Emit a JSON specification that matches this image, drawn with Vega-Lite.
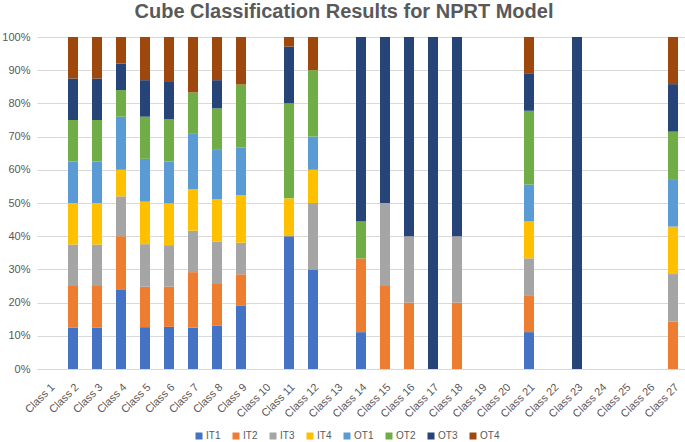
{
  "$schema": "https://vega.github.io/schema/vega-lite/v6.json",
  "width": 648,
  "height": 332,
  "autosize": {"type": "none"},
  "padding": {"left": 37, "top": 37, "right": 0, "bottom": 73},
  "background": "white",
  "title": {
    "text": "Cube Classification Results for NPRT Model",
    "font": "Liberation Sans",
    "fontSize": 20,
    "fontWeight": "bold",
    "color": "#595959",
    "anchor": "middle",
    "dx": -17,
    "offset": 9
  },
  "data": {
    "values": [
      {"cls": "Class 2", "s": "IT1", "v": 12.5}, {"cls": "Class 2", "s": "IT2", "v": 12.5}, {"cls": "Class 2", "s": "IT3", "v": 12.5}, {"cls": "Class 2", "s": "IT4", "v": 12.5}, {"cls": "Class 2", "s": "OT1", "v": 12.5}, {"cls": "Class 2", "s": "OT2", "v": 12.5}, {"cls": "Class 2", "s": "OT3", "v": 12.5}, {"cls": "Class 2", "s": "OT4", "v": 12.5},
      {"cls": "Class 3", "s": "IT1", "v": 12.5}, {"cls": "Class 3", "s": "IT2", "v": 12.5}, {"cls": "Class 3", "s": "IT3", "v": 12.5}, {"cls": "Class 3", "s": "IT4", "v": 12.5}, {"cls": "Class 3", "s": "OT1", "v": 12.5}, {"cls": "Class 3", "s": "OT2", "v": 12.5}, {"cls": "Class 3", "s": "OT3", "v": 12.5}, {"cls": "Class 3", "s": "OT4", "v": 12.5},
      {"cls": "Class 4", "s": "IT1", "v": 24}, {"cls": "Class 4", "s": "IT2", "v": 16}, {"cls": "Class 4", "s": "IT3", "v": 12}, {"cls": "Class 4", "s": "IT4", "v": 8}, {"cls": "Class 4", "s": "OT1", "v": 16}, {"cls": "Class 4", "s": "OT2", "v": 8}, {"cls": "Class 4", "s": "OT3", "v": 8}, {"cls": "Class 4", "s": "OT4", "v": 8},
      {"cls": "Class 5", "s": "IT1", "v": 12.6}, {"cls": "Class 5", "s": "IT2", "v": 12.2}, {"cls": "Class 5", "s": "IT3", "v": 12.8}, {"cls": "Class 5", "s": "IT4", "v": 12.8}, {"cls": "Class 5", "s": "OT1", "v": 12.9}, {"cls": "Class 5", "s": "OT2", "v": 12.7}, {"cls": "Class 5", "s": "OT3", "v": 11}, {"cls": "Class 5", "s": "OT4", "v": 13},
      {"cls": "Class 6", "s": "IT1", "v": 12.7}, {"cls": "Class 6", "s": "IT2", "v": 12.1}, {"cls": "Class 6", "s": "IT3", "v": 12.5}, {"cls": "Class 6", "s": "IT4", "v": 12.6}, {"cls": "Class 6", "s": "OT1", "v": 12.6}, {"cls": "Class 6", "s": "OT2", "v": 12.7}, {"cls": "Class 6", "s": "OT3", "v": 11.5}, {"cls": "Class 6", "s": "OT4", "v": 13.3},
      {"cls": "Class 7", "s": "IT1", "v": 12.5}, {"cls": "Class 7", "s": "IT2", "v": 16.7}, {"cls": "Class 7", "s": "IT3", "v": 12.5}, {"cls": "Class 7", "s": "IT4", "v": 12.5}, {"cls": "Class 7", "s": "OT1", "v": 16.7}, {"cls": "Class 7", "s": "OT2", "v": 12.5}, {"cls": "Class 7", "s": "OT4", "v": 16.7},
      {"cls": "Class 8", "s": "IT1", "v": 13}, {"cls": "Class 8", "s": "IT2", "v": 12.6}, {"cls": "Class 8", "s": "IT3", "v": 12.7}, {"cls": "Class 8", "s": "IT4", "v": 12.8}, {"cls": "Class 8", "s": "OT1", "v": 14.9}, {"cls": "Class 8", "s": "OT2", "v": 12.5}, {"cls": "Class 8", "s": "OT3", "v": 8.5}, {"cls": "Class 8", "s": "OT4", "v": 13},
      {"cls": "Class 9", "s": "IT1", "v": 19}, {"cls": "Class 9", "s": "IT2", "v": 9.5}, {"cls": "Class 9", "s": "IT3", "v": 9.5}, {"cls": "Class 9", "s": "IT4", "v": 14.3}, {"cls": "Class 9", "s": "OT1", "v": 14.3}, {"cls": "Class 9", "s": "OT2", "v": 19}, {"cls": "Class 9", "s": "OT4", "v": 14.3},
      {"cls": "Class 11", "s": "IT1", "v": 40}, {"cls": "Class 11", "s": "IT4", "v": 11.4}, {"cls": "Class 11", "s": "OT2", "v": 28.6}, {"cls": "Class 11", "s": "OT3", "v": 17.1}, {"cls": "Class 11", "s": "OT4", "v": 2.9},
      {"cls": "Class 12", "s": "IT1", "v": 30}, {"cls": "Class 12", "s": "IT3", "v": 20}, {"cls": "Class 12", "s": "IT4", "v": 10}, {"cls": "Class 12", "s": "OT1", "v": 10}, {"cls": "Class 12", "s": "OT2", "v": 20}, {"cls": "Class 12", "s": "OT4", "v": 10},
      {"cls": "Class 14", "s": "IT1", "v": 11.1}, {"cls": "Class 14", "s": "IT2", "v": 22.2}, {"cls": "Class 14", "s": "OT2", "v": 11.1}, {"cls": "Class 14", "s": "OT3", "v": 55.6},
      {"cls": "Class 15", "s": "IT2", "v": 25}, {"cls": "Class 15", "s": "IT3", "v": 25}, {"cls": "Class 15", "s": "OT3", "v": 50},
      {"cls": "Class 16", "s": "IT2", "v": 20}, {"cls": "Class 16", "s": "IT3", "v": 20}, {"cls": "Class 16", "s": "OT3", "v": 60},
      {"cls": "Class 17", "s": "OT3", "v": 100},
      {"cls": "Class 18", "s": "IT2", "v": 20}, {"cls": "Class 18", "s": "IT3", "v": 20}, {"cls": "Class 18", "s": "OT3", "v": 60},
      {"cls": "Class 21", "s": "IT1", "v": 11.1}, {"cls": "Class 21", "s": "IT2", "v": 11.1}, {"cls": "Class 21", "s": "IT3", "v": 11.1}, {"cls": "Class 21", "s": "IT4", "v": 11.1}, {"cls": "Class 21", "s": "OT1", "v": 11.1}, {"cls": "Class 21", "s": "OT2", "v": 22.2}, {"cls": "Class 21", "s": "OT3", "v": 11.1}, {"cls": "Class 21", "s": "OT4", "v": 11.1},
      {"cls": "Class 23", "s": "OT3", "v": 100},
      {"cls": "Class 27", "s": "IT2", "v": 14.3}, {"cls": "Class 27", "s": "IT3", "v": 14.3}, {"cls": "Class 27", "s": "IT4", "v": 14.3}, {"cls": "Class 27", "s": "OT1", "v": 14.3}, {"cls": "Class 27", "s": "OT2", "v": 14.3}, {"cls": "Class 27", "s": "OT3", "v": 14.3}, {"cls": "Class 27", "s": "OT4", "v": 14.2}
    ]
  },
  "mark": {"type": "bar", "size": 10},
  "encoding": {
    "x": {
      "field": "cls",
      "type": "nominal",
      "title": null,
      "scale": {
        "domain": ["Class 1", "Class 2", "Class 3", "Class 4", "Class 5", "Class 6", "Class 7", "Class 8", "Class 9", "Class 10", "Class 11", "Class 12", "Class 13", "Class 14", "Class 15", "Class 16", "Class 17", "Class 18", "Class 19", "Class 20", "Class 21", "Class 22", "Class 23", "Class 24", "Class 25", "Class 26", "Class 27"],
        "paddingInner": 0.5,
        "paddingOuter": 0.25
      },
      "axis": {
        "labelAngle": -45,
        "labelFont": "Liberation Sans",
        "labelFontSize": 11,
        "labelColor": "#595959",
        "ticks": false,
        "domainColor": "#D9D9D9",
        "labelPadding": 12
      }
    },
    "y": {
      "field": "v",
      "type": "quantitative",
      "stack": "normalize",
      "title": null,
      "scale": {"domain": [0, 1]},
      "axis": {
        "format": "%",
        "values": [0, 0.1, 0.2, 0.3, 0.4, 0.5, 0.6, 0.7, 0.8, 0.9, 1],
        "labelFont": "Liberation Sans",
        "labelFontSize": 11,
        "labelColor": "#595959",
        "ticks": false,
        "domain": false,
        "gridColor": "#D9D9D9",
        "labelPadding": 7
      }
    },
    "color": {
      "field": "s",
      "type": "nominal",
      "title": null,
      "scale": {
        "domain": ["IT1", "IT2", "IT3", "IT4", "OT1", "OT2", "OT3", "OT4"],
        "range": ["#4472C4", "#ED7D31", "#A5A5A5", "#FFC000", "#5B9BD5", "#70AD47", "#264478", "#9E480E"]
      },
      "legend": {
        "orient": "none",
        "legendX": 157,
        "legendY": 394,
        "direction": "horizontal",
        "symbolType": "square",
        "symbolSize": 49,
        "symbolStrokeWidth": 0,
        "labelFont": "Liberation Sans",
        "labelFontSize": 10,
        "labelColor": "#595959",
        "columnPadding": 10,
        "labelOffset": 2
      }
    },
    "order": {"field": "s", "sort": "ascending"}
  },
  "config": {"view": {"stroke": null}}
}
